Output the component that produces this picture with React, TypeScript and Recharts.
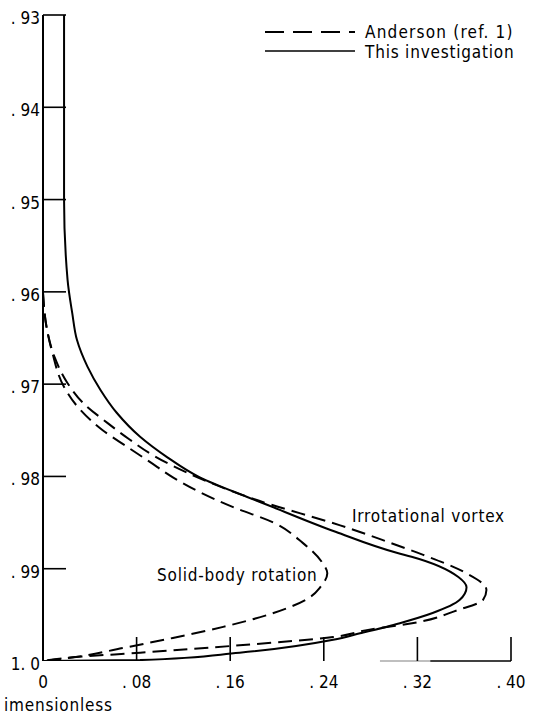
import React from 'react';
import { LineChart, Line, XAxis, YAxis, ReferenceLine, Customized } from 'recharts';

const FONT = "'DejaVu Sans Condensed', 'DejaVu Sans', sans-serif";

const xTicks = [0, 0.08, 0.16, 0.24, 0.32, 0.4];
const yTicks = [0.93, 0.94, 0.95, 0.96, 0.97, 0.98, 0.99, 1.0];

// This investigation (irrotational vortex), solid
const investigationY = [
  0.93, 0.94, 0.95, 0.9587, 0.9623, 0.9652, 0.9681, 0.9706, 0.9731, 0.9757, 0.9779, 0.9801, 0.9822,
  0.9831, 0.986, 0.9883, 0.9887, 0.9909, 0.992, 0.9934, 0.9948, 0.9959, 0.997, 0.9977, 0.9991, 0.9999, 1.0,
];
const investigationX = [
  0.018, 0.018, 0.018, 0.021, 0.025, 0.029, 0.038, 0.049, 0.063, 0.083, 0.106, 0.134, 0.174,
  0.192, 0.25, 0.303, 0.315, 0.355, 0.362, 0.356, 0.333, 0.305, 0.271, 0.248, 0.168, 0.083, 0.0,
];

// Anderson, irrotational vortex, dashed
const andersonIrrotY = [
  0.9601, 0.9638, 0.9671, 0.9699, 0.972, 0.9742, 0.976, 0.9777, 0.9802, 0.9831, 0.984, 0.9853, 0.9872,
  0.9885, 0.9903, 0.9923, 0.9934, 0.9945, 0.9958, 0.9966, 0.9974, 0.9983, 0.9991, 0.9996, 1.0,
];
const andersonIrrotX = [
  0.0, 0.003, 0.01, 0.021, 0.034, 0.055, 0.074, 0.094, 0.134, 0.196, 0.22, 0.254, 0.297,
  0.325, 0.359, 0.379, 0.376, 0.354, 0.32, 0.279, 0.248, 0.168, 0.083, 0.026, 0.0,
];

// Anderson, solid-body rotation, dashed
const andersonSolidY = [
  0.9601, 0.9638, 0.9666, 0.9703, 0.9728, 0.975, 0.9768, 0.9784, 0.9801, 0.9817, 0.9833, 0.985,
  0.9872, 0.9894, 0.9905, 0.992, 0.9931, 0.9948, 0.9963, 0.9975, 0.9986, 0.9996, 1.0,
];
const andersonSolidX = [
  0.0, 0.003, 0.008, 0.018, 0.032, 0.051, 0.072, 0.091, 0.111, 0.134, 0.162, 0.197,
  0.222, 0.239, 0.243, 0.237, 0.228, 0.197, 0.154, 0.111, 0.068, 0.026, 0.0,
];

const toPoints = (ys: number[], xs: number[]) => ys.map((y, i) => ({ y, x: xs[i] }));

const fmtX = (v: number) => (v === 0 ? '0' : '. ' + Math.round(v * 100).toString().padStart(2, '0'));
const fmtY = (v: number) => (v >= 1 ? '1. 0' : '. ' + Math.round(v * 100).toString());

const XTick = ({ x, y, payload }: any) => (
  <g>
    <line x1={x} x2={x} y1={y - 24} y2={y} stroke="#000" strokeWidth={1.6} />
    <text x={x} y={y + 21} textAnchor="middle" dominantBaseline="central" fontSize={17} fontFamily={FONT} fill="#000">
      {fmtX(payload.value)}
    </text>
  </g>
);

const YTick = ({ x, y, payload }: any) => (
  <g>
    {payload.value < 1 && <line x1={x} x2={x + 23} y1={y} y2={y} stroke="#000" strokeWidth={1.6} />}
    <text x={x - 3} y={y + 3} textAnchor="end" dominantBaseline="central" fontSize={17} fontFamily={FONT} fill="#000">
      {fmtY(payload.value)}
    </text>
  </g>
);

const Annotations = () => (
  <g fontFamily={FONT} fontSize={17} letterSpacing={0.8} fill="#000">
    <line x1={265} x2={355} y1={32} y2={32} stroke="#000" strokeWidth={2} strokeDasharray="19 9" />
    <text x={365} y={32} dominantBaseline="central" letterSpacing={1.2}>Anderson (ref. 1)</text>
    <line x1={265} x2={355} y1={51} y2={51} stroke="#000" strokeWidth={1.6} />
    <text x={365} y={52} dominantBaseline="central">This investigation</text>
    <text x={352} y={516} dominantBaseline="central">Irrotational vortex</text>
    <text x={157} y={575} dominantBaseline="central">Solid-body rotation</text>
    <text x={4} y={705} dominantBaseline="central">imensionless</text>
  </g>
);

export default function App() {
  return (
    <div style={{ position: 'absolute', left: 0, top: 0, background: '#fff' }}>
      <LineChart width={538} height={719} layout="vertical" margin={{ top: 15, right: 27, bottom: 0, left: 0 }}>
        <XAxis
          type="number"
          domain={[0, 0.4]}
          ticks={xTicks}
          interval={0}
          allowDataOverflow
          axisLine={false}
          tickLine={false}
          tickSize={0}
          tickMargin={0}
          height={58}
          tick={<XTick />}
        />
        <YAxis
          type="number"
          dataKey="y"
          domain={[0.93, 1.0]}
          ticks={yTicks}
          interval={0}
          allowDataOverflow
          width={43}
          axisLine={{ stroke: '#000', strokeWidth: 2 }}
          tickLine={false}
          tickSize={0}
          tickMargin={0}
          tick={<YTick />}
        />
        <ReferenceLine segment={[{ x: 0.288, y: 1.0 }, { x: 0.331, y: 1.0 }]} stroke="#aaa" strokeWidth={1.6} ifOverflow="visible" />
        <ReferenceLine segment={[{ x: 0.331, y: 1.0 }, { x: 0.4, y: 1.0 }]} stroke="#000" strokeWidth={1.6} ifOverflow="visible" />
        <Line
          data={toPoints(andersonSolidY, andersonSolidX)}
          dataKey="x"
          type="monotone"
          stroke="#000"
          strokeWidth={2}
          strokeDasharray="14 7"
          dot={false}
          isAnimationActive={false}
        />
        <Line
          data={toPoints(andersonIrrotY, andersonIrrotX)}
          dataKey="x"
          type="monotone"
          stroke="#000"
          strokeWidth={2}
          strokeDasharray="14 7"
          dot={false}
          isAnimationActive={false}
        />
        <Line
          data={toPoints(investigationY, investigationX)}
          dataKey="x"
          type="monotone"
          stroke="#000"
          strokeWidth={2}
          dot={false}
          isAnimationActive={false}
        />
        <Customized component={<Annotations />} />
      </LineChart>
    </div>
  );
}
